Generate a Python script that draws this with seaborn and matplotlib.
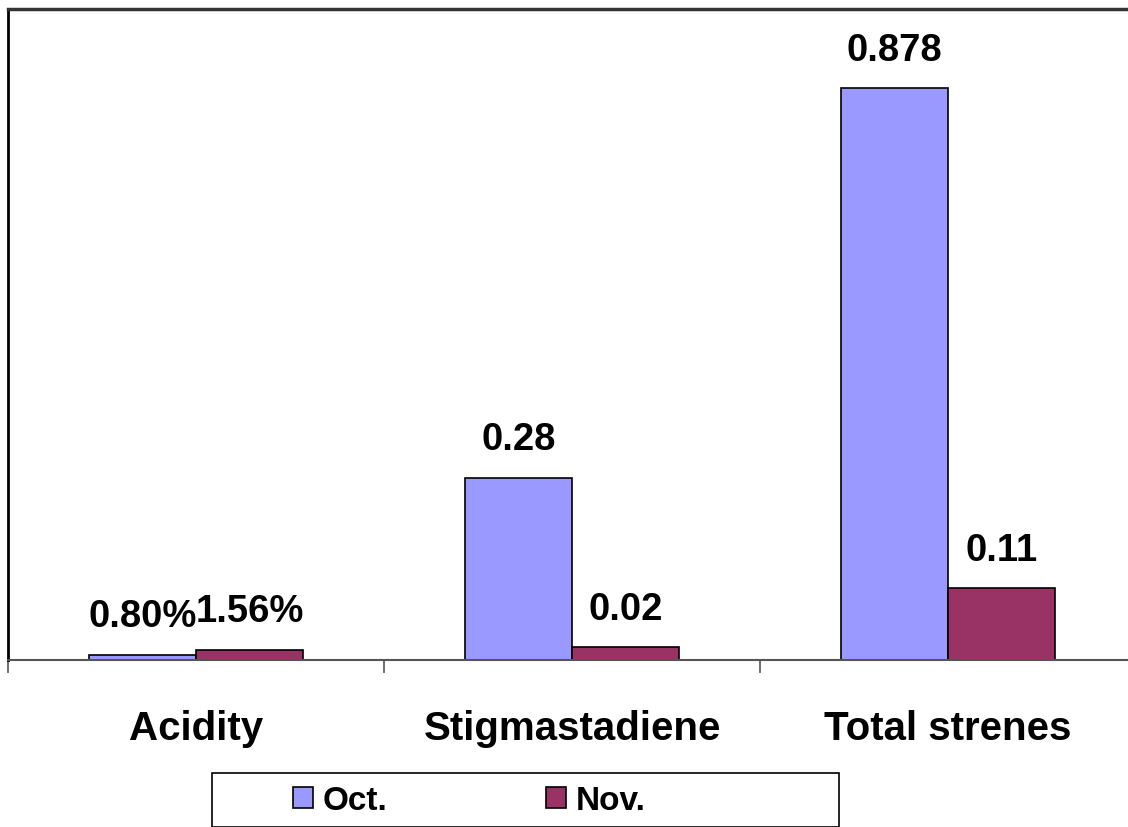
import numpy as np
import pandas as pd
import seaborn as sns
import matplotlib.pyplot as plt
from matplotlib.patches import Rectangle

categories = ['Acidity', 'Stigmastadiene', 'Total strenes']
months = ['Oct.', 'Nov.']
oct_values = [0.0080, 0.28, 0.878]
nov_values = [0.0156, 0.02, 0.11]
oct_labels = ['0.80%', '0.28', '0.878']
nov_labels = ['1.56%', '0.02', '0.11']
colors = ['#9999FF', '#993366']

df = pd.DataFrame({
    'Category': categories * 2,
    'Month': [months[0]] * 3 + [months[1]] * 3,
    'Value': oct_values + nov_values,
})

sns.set_style("white")
plt.rcParams['font.family'] = ['Liberation Sans', 'DejaVu Sans']
plt.rcParams['font.weight'] = 'bold'
plt.rcParams['text.color'] = 'black'
plt.rcParams['xtick.color'] = 'black'
plt.rcParams['xtick.labelcolor'] = 'black'

fig = plt.figure(figsize=(11.28, 8.27), dpi=100)
ax = fig.add_axes([8 / 1128, 1 - 660 / 827, 1128 / 1128, 651 / 827])

sns.barplot(data=df, x='Category', y='Value', hue='Month', palette=colors,
            order=categories, hue_order=months, width=0.57, gap=0, saturation=1,
            edgecolor='black', linewidth=1.2, ax=ax, legend=False)

for cont, labs in zip(ax.containers, [oct_labels, nov_labels]):
    ax.bar_label(cont, labels=labs, padding=14, fontsize=27.5, fontweight='bold', color='black')

ax.set_ylim(0, 1.0)
ax.set_xlim(-0.5, 2.5)
ax.set_xlabel('')
ax.set_ylabel('')
ax.set_yticks([])
ax.tick_params(axis='x', which='major', length=0, labelsize=29, pad=36, labelcolor='black')
for lab in ax.get_xticklabels():
    lab.set_fontweight('bold')
ax.set_xticks([-0.5, 0.5, 1.5, 2.5], minor=True)
ax.tick_params(axis='x', which='minor', bottom=True, length=9.5, width=1.2,
               color='#555555', direction='out')

ax.spines['top'].set_color('#333333')
ax.spines['top'].set_linewidth(2.5)
ax.spines['left'].set_color('black')
ax.spines['left'].set_linewidth(2)
ax.spines['bottom'].set_color('#555555')
ax.spines['bottom'].set_linewidth(1.5)
ax.spines['right'].set_visible(False)

# legend box
fig.patches.append(Rectangle((212 / 1128, 0), (839 - 212) / 1128, (827 - 773) / 827,
                             transform=fig.transFigure, facecolor='white',
                             edgecolor='black', linewidth=1.2))
handles = [Rectangle((0, 0), 1, 1, facecolor=c, edgecolor='black', linewidth=1.2) for c in colors]
fig.legend(handles, months, loc='center left', bbox_to_anchor=(293 / 1128, 1 - 801 / 827),
           ncol=2, frameon=False, prop={'size': 24, 'weight': 'bold'},
           handlelength=0.6, handleheight=0.6, handletextpad=0.3, columnspacing=4.75,
           borderpad=0, borderaxespad=0, labelcolor='black')

fig.savefig('out.png', dpi=100)
